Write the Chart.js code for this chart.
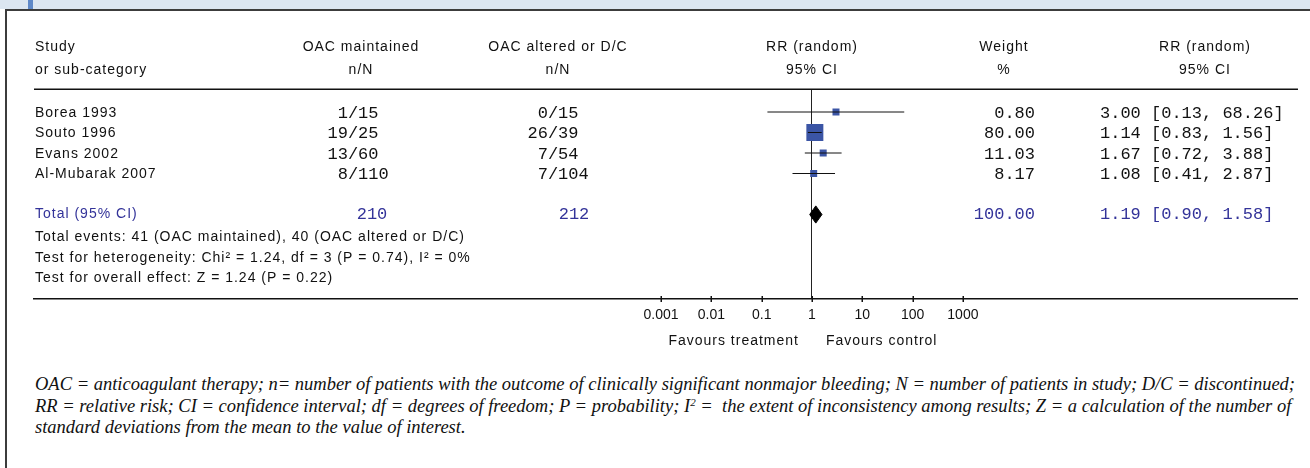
<!DOCTYPE html>
<html>
<head>
<meta charset="utf-8">
<script src="https://cdn.jsdelivr.net/npm/chart.js@4.4.1/dist/chart.umd.min.js"></script>
<style>
    html, body { margin: 0; padding: 0; background: #fff; width: 1310px; height: 468px; overflow: hidden; position: relative; }
    .band { position: absolute; left: 0; top: 0; width: 1310px; height: 9px; background: #dce6f1; }
    .stripe { position: absolute; left: 28px; top: 0; width: 5px; height: 9px; background: #5f88c8; }
    .frame { position: absolute; left: 5px; top: 9px; width: 1400px; height: 600px; border-left: 2px solid #3c3c3c; border-top: 2px solid #3c3c3c; }
    #forest { position: absolute; left: 0; top: 0; }
    .caption { position: absolute; left: 35px; top: 374px; font: italic 18.5px 'Liberation Serif', serif; line-height: 21.5px; color: #111; white-space: nowrap; }
    .caption sup { font-size: 11px; line-height: 0; vertical-align: 6px; }
</style>
</head>
<body>
<div class="band"></div>
<div class="stripe"></div>
<div class="frame"></div>
<canvas id="forest" width="1310" height="350"></canvas>
<div class="caption">
    OAC = anticoagulant therapy; n= number of patients with the outcome of clinically significant nonmajor bleeding; N = number of patients in study; D/C = discontinued;<br>
    RR = relative risk; CI = confidence interval; df = degrees of freedom; P = probability; I<sup>2</sup> =&nbsp; the extent of inconsistency among results; Z = a calculation of the number of<br>
    standard deviations from the mean to the value of interest.
</div>
<script>
const studies = ['Borea 1993', 'Souto 1996', 'Evans 2002', 'Al-Mubarak 2007']
const eventsMaintained = [1, 19, 13, 8]
const totalMaintained = [15, 25, 60, 110]
const eventsAltered = [0, 26, 7, 7]
const totalAltered = [15, 39, 54, 104]
const weights = [0.80, 80.00, 11.03, 8.17]
const riskRatios = [3.00, 1.14, 1.67, 1.08]
const ciLower = [0.13, 0.83, 0.72, 0.41]
const ciUpper = [68.26, 1.56, 3.88, 2.87]

const pooledLabel = 'Total (95% CI)'
const pooledTotals = [210, 212]
const pooledWeight = 100.00
const pooledRR = 1.19
const pooledLower = 0.90
const pooledUpper = 1.58

const summaryLines = [
    'Total events: 41 (OAC maintained), 40 (OAC altered or D/C)',
    'Test for heterogeneity: Chi\u00b2 = 1.24, df = 3 (P = 0.74), I\u00b2 = 0%',
    'Test for overall effect: Z = 1.24 (P = 0.22)',
]

const tickValues = [0.001, 0.01, 0.1, 1, 10, 100, 1000]
const tickLabels = ['0.001', '0.01', '0.1', '1', '10', '100', '1000']
const favourLabels = ['Favours treatment', 'Favours control']

// layout
const LEFT = 34, RIGHT = 1298, TOP = 90, BOTTOM = 299
const X_ONE = 812, DECADE = 50.3
const FIRST_ROW = 112, ROW = 20.5
const POOLED_ROW = 5
const SANS = "14px 'Liberation Sans', Arial, sans-serif"
const MONO = "17px 'Liberation Mono', 'Courier New', monospace"
const INK = '#111'
const NAVY = '#333399'
const SQUARE = '#3b55a5'

const headers = [
    { lines: ['Study', 'or sub-category'], x: 35, align: 'left' },
    { lines: ['OAC maintained', 'n/N'], x: 361, align: 'center' },
    { lines: ['OAC altered or D/C', 'n/N'], x: 558, align: 'center' },
    { lines: ['RR (random)', '95% CI'], x: 812, align: 'center' },
    { lines: ['Weight', '%'], x: 1004, align: 'center' },
    { lines: ['RR (random)', '95% CI'], x: 1205, align: 'center' },
]

const fmt = v => v.toFixed(2)
const ciText = (rr, lo, hi) => `${fmt(rr)} [${fmt(lo)}, ${fmt(hi)}]`

const ciLines = studies.map((name, i) => ({
    type: 'line',
    label: name,
    data: [{ x: ciLower[i], y: i }, { x: ciUpper[i], y: i }],
    borderColor: INK,
    borderWidth: 1,
    pointRadius: 0,
    order: 0,
}))

const diamondHalf = 0.42
const diamond = [
    {
        type: 'line',
        label: 'pooled-top',
        data: [
            { x: pooledLower, y: POOLED_ROW },
            { x: pooledRR, y: POOLED_ROW - diamondHalf },
            { x: pooledUpper, y: POOLED_ROW },
        ],
        borderColor: '#000',
        borderWidth: 1,
        pointRadius: 0,
        tension: 0,
        fill: false,
        order: 2,
    },
    {
        type: 'line',
        label: 'pooled-bottom',
        data: [
            { x: pooledLower, y: POOLED_ROW },
            { x: pooledRR, y: POOLED_ROW + diamondHalf },
            { x: pooledUpper, y: POOLED_ROW },
        ],
        borderColor: '#000',
        backgroundColor: '#000',
        borderWidth: 1,
        pointRadius: 0,
        tension: 0,
        fill: '-1',
        order: 2,
    },
]

const squares = {
    type: 'scatter',
    label: 'RR',
    data: riskRatios.map((v, i) => ({ x: v, y: i })),
    pointStyle: 'rect',
    pointRadius: weights.map(w => Math.max(7, 1.9 * Math.sqrt(w)) / Math.SQRT2),
    backgroundColor: SQUARE,
    borderColor: SQUARE,
    borderWidth: 0,
    order: 1,
}

const tableText = {
    id: 'tableText',
    afterDraw(chart) {
        const { ctx, chartArea, scales: { x, y } } = chart

        ctx.save()
        ctx.strokeStyle = INK
        ctx.lineWidth = 1.5
        ctx.beginPath()
        ctx.moveTo(chartArea.left, chartArea.top - 0.75)
        ctx.lineTo(chartArea.right, chartArea.top - 0.75)
        ctx.stroke()

        // tick marks crossing the axis line
        ctx.lineWidth = 1.5
        ctx.beginPath()
        for (const v of tickValues) {
            const px = Math.round(x.getPixelForValue(v)) + 0.25
            ctx.moveTo(px, chartArea.bottom - 3)
            ctx.lineTo(px, chartArea.bottom + 3)
        }
        ctx.stroke()

        ctx.textBaseline = 'middle'
        ctx.fillStyle = INK
        ctx.font = SANS
        ctx.letterSpacing = '1px'
        for (const h of headers) {
            ctx.textAlign = h.align
            ctx.fillText(h.lines[0], h.x, 47)
            ctx.fillText(h.lines[1], h.x, 70)
        }

        ctx.textAlign = 'left'
        studies.forEach((name, i) => ctx.fillText(name, 35, y.getPixelForValue(i) + 1))

        const yPooled = y.getPixelForValue(POOLED_ROW)
        ctx.fillStyle = NAVY
        ctx.fillText(pooledLabel, 35, yPooled)
        ctx.fillStyle = INK
        summaryLines.forEach((line, k) => ctx.fillText(line, 35, yPooled + 23 + k * 20.5))

        const x1 = x.getPixelForValue(1)
        ctx.textAlign = 'right'
        ctx.fillText(favourLabels[0], x1 - 13, 341)
        ctx.textAlign = 'left'
        ctx.fillText(favourLabels[1], x1 + 14, 341)

        ctx.letterSpacing = '0px'
        ctx.font = MONO
        const slashHalf = ctx.measureText('/').width / 2
        const fraction = (n, N, slashX, yy) => {
            ctx.textAlign = 'left'
            ctx.fillText(`${n}/${N}`, slashX - slashHalf - ctx.measureText(String(n)).width, yy)
        }
        studies.forEach((name, i) => {
            const yy = y.getPixelForValue(i) + 1
            fraction(eventsMaintained[i], totalMaintained[i], 353, yy)
            fraction(eventsAltered[i], totalAltered[i], 553, yy)
            ctx.textAlign = 'right'
            ctx.fillText(fmt(weights[i]), 1035, yy)
            ctx.textAlign = 'left'
            ctx.fillText(ciText(riskRatios[i], ciLower[i], ciUpper[i]), 1100, yy)
        })

        ctx.fillStyle = NAVY
        ctx.textAlign = 'center'
        ctx.fillText(String(pooledTotals[0]), 372, yPooled)
        ctx.fillText(String(pooledTotals[1]), 574, yPooled)
        ctx.textAlign = 'right'
        ctx.fillText(fmt(pooledWeight), 1035, yPooled)
        ctx.textAlign = 'left'
        ctx.fillText(ciText(pooledRR, pooledLower, pooledUpper), 1100, yPooled)
        ctx.restore()
    }
}

new Chart(document.getElementById('forest'), {
    type: 'scatter',
    data: { datasets: [...ciLines, squares, ...diamond] },
    options: {
        responsive: false,
        animation: false,
        events: [],
        layout: { padding: { left: LEFT, right: 1310 - RIGHT, top: TOP, bottom: 11 } },
        plugins: { legend: false, tooltip: false, title: false },
        scales: {
            x: {
                type: 'logarithmic',
                min: Math.pow(10, (LEFT - X_ONE) / DECADE),
                max: Math.pow(10, (RIGHT - X_ONE) / DECADE),
                afterBuildTicks: scale => { scale.ticks = tickValues.map(value => ({ value })) },
                afterFit: scale => { scale.height = 40 },
                ticks: {
                    autoSkip: false,
                    maxRotation: 0,
                    padding: 8,
                    color: INK,
                    font: { family: "'Liberation Sans', Arial, sans-serif", size: 14 },
                    callback: (value, index) => tickLabels[index],
                },
                grid: {
                    color: ctx => ctx.tick && ctx.tick.value === 1 ? '#222' : 'rgba(0,0,0,0)',
                    drawTicks: false,
                    lineWidth: 1,
                },
                border: { display: true, color: INK, width: 1.5 },
            },
            y: {
                type: 'linear',
                display: false,
                reverse: true,
                min: (TOP - FIRST_ROW) / ROW,
                max: (BOTTOM - FIRST_ROW) / ROW,
            },
        },
    },
    plugins: [tableText],
})
</script>
</body>
</html>
